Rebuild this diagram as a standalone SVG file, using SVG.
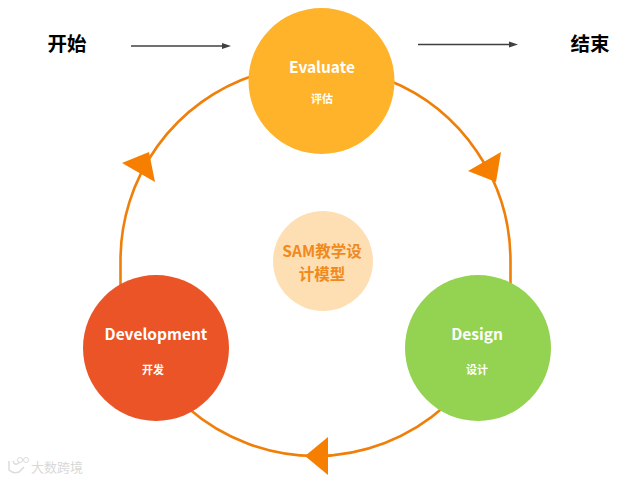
<svg xmlns="http://www.w3.org/2000/svg" width="625" height="480" viewBox="0 0 625 480">
<style>
.ring{fill:none;stroke:#f07f09;stroke-width:2.600}
.head{fill:#f77f00}
.flow{stroke:#404040;stroke-width:1.400;fill:none}
.flowhead{fill:#404040}
text{font-family:"Noto Sans CJK SC","Open Sans",sans-serif;text-anchor:middle}
.term{font-size:19.500px;font-weight:700;fill:#000}
.en{font-size:15.500px;font-weight:700;fill:#fff}
.cn{font-size:11px;font-weight:700;fill:#fff}
.mid{font-size:15.500px;font-weight:700;fill:#f08a1d}
.wm{font-size:13px;fill:#d8d8d8}
</style>
<rect width="625" height="480" fill="#fff"/>
<g id="connectors">
<path class="ring" d="M255 75A195 195 0 0 0 120.500 261V285"/>
<path class="ring" d="M388 80A195 195 0 0 1 510.500 261V285"/>
<path class="ring" d="M445 406A195 195 0 0 1 315.500 456A195 195 0 0 1 188 408"/>
<polygon class="head" points="122,163 149,152 155,182"/>
<polygon class="head" points="468,171 501,152 496,182"/>
<polygon class="head" points="305,456 328,437 328,475"/>
<path class="flow" d="M131 46H226"/>
<polygon class="flowhead" points="231,46 222,43 222,49"/>
<path class="flow" d="M418 44.500H513"/>
<polygon class="flowhead" points="518,44.500 509,41.500 509,47.500"/>
</g>
<g id="start"><text class="term" x="67" y="51">开始</text></g>
<g id="end"><text class="term" x="590" y="51">结束</text></g>
<g id="evaluate">
<circle cx="321.500" cy="81" r="73" fill="#ffb32a"/>
<text class="en" x="322" y="72.500">Evaluate</text>
<text class="cn" x="322" y="103">评估</text>
</g>
<g id="design">
<circle cx="478" cy="348" r="73" fill="#94d251"/>
<text class="en" x="477" y="340">Design</text>
<text class="cn" x="477" y="374">设计</text>
</g>
<g id="development">
<circle cx="156" cy="348" r="73" fill="#ea5427"/>
<text class="en" x="156" y="340">Development</text>
<text class="cn" x="153" y="374">开发</text>
</g>
<g id="center">
<circle cx="323" cy="261" r="50" fill="#fedfb4"/>
<text class="mid"><tspan x="322" y="257">SAM教学设</tspan><tspan x="322" y="279.500">计模型</tspan></text>
</g>
<g id="watermark">
<path d="M9 461V470Q13 474 19 472L24 467M13 461Q15 467 20 462" fill="none" stroke="#dcdcdc" stroke-width="1.500"/>
<circle cx="20" cy="460" r="2.500" fill="none" stroke="#dcdcdc"/>
<circle cx="26" cy="460" r="2.500" fill="none" stroke="#dcdcdc"/>
<text class="wm" x="57" y="472">大数跨境</text>
</g>
</svg>
